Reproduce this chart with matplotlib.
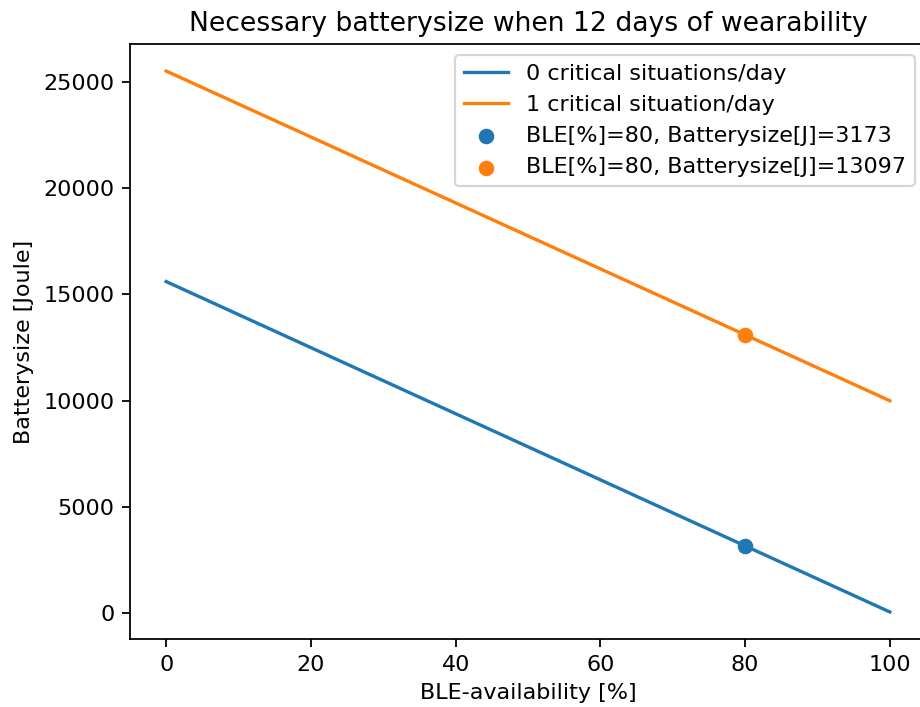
import numpy as np
import matplotlib
matplotlib.use("Agg")
import matplotlib.pyplot as plt

# BLE availability [%] at the line ends
ble = [0, 100]
battery_0crit = [15600, 63]
battery_1crit = [25500, 9996]

ble_point = 80
point_0crit = 3173
point_1crit = 13097

DPI = 160
W, H = 920, 707
fig = plt.figure(figsize=(W / DPI, H / DPI), dpi=DPI)
# axes run a little past the right edge, as in the reference crop
ax = fig.add_axes([130 / W, (H - 639) / H, (926 - 130) / W, (639 - 44) / H])

ax.plot(ble, battery_0crit, label="0 critical situations/day")
ax.plot(ble, battery_1crit, label="1 critical situation/day")
ax.scatter([ble_point], [point_0crit],
           label=f"BLE[%]={ble_point}, Batterysize[J]={point_0crit}")
ax.scatter([ble_point], [point_1crit],
           label=f"BLE[%]={ble_point}, Batterysize[J]={point_1crit}")

ax.set_title("Necessary batterysize when 12 days of wearability")
ax.set_xlabel("BLE-availability [%]")
ax.set_ylabel("Batterysize [Joule]")
ax.legend(loc="upper right")

fig.savefig("out.png", dpi=DPI)
